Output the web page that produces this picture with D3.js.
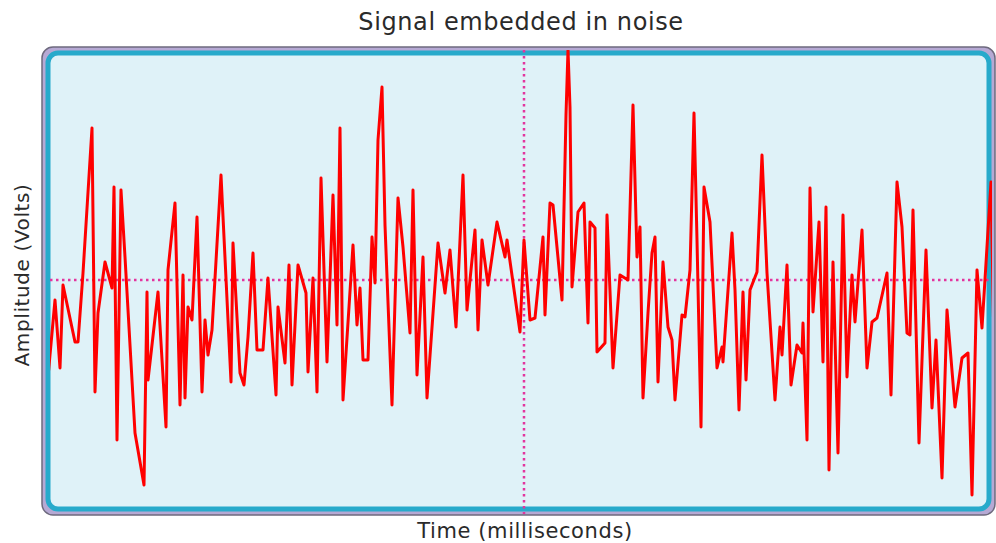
<!DOCTYPE html>
<html>
<head>
<meta charset="utf-8">
<script src="https://d3js.org/d3.v7.min.js"></script>
<style>
  body { margin: 0; background: #fff; }
  text { font-family: "DejaVu Sans", Verdana, sans-serif; fill: #2a2a2a; }
</style>
</head>
<body>
<div id="chart"></div>
<script>
// time in ms, amplitude in volts
var times = [1, 11, 16, 19, 31, 34, 39, 48, 51, 54, 61, 68, 70, 73, 77, 81, 91, 100, 103, 104,
    114, 122, 124, 131, 136, 139, 141, 144, 148, 153, 158, 161,
    164, 168, 177, 187, 189, 196, 200, 204, 209, 213, 219, 224, 232, 234, 241, 245, 248, 254,
    262, 264, 269, 273, 277, 283, 289, 293, 296, 299, 309, 313, 316, 319, 324,
    328, 331, 334, 338, 341, 348, 354, 359, 366, 369, 373, 379, 383, 394, 401, 406, 412, 419,
    423, 431, 434, 438, 444, 453, 461, 463, 476, 480,
    486, 491, 499, 501, 506, 509, 518, 522, 524, 526, 528, 534, 540, 544, 546, 551, 553, 561,
    563, 569, 576, 584, 589, 593, 596, 599, 604, 608, 611, 614, 619, 624, 628, 631, 638, 641,
    646, 650, 653, 657, 660, 666, 673, 678, 679, 688, 691, 695, 699, 702, 706, 713, 718, 723,
    731, 736, 738, 743, 747, 753, 758, 759, 763, 766, 769, 775, 779, 782, 785, 789, 794, 799,
    803, 808, 811, 818, 823, 828, 833, 843, 847, 853, 858, 863, 866, 869, 875, 882, 888, 892,
    898, 903, 911, 918, 924, 928, 933, 938, 947, 951]

var amplitude = [-1.30, -0.20, -0.88, -0.05, -0.62, -0.62, 0.07, 1.52, -1.12, -0.33, 0.18, -0.08, 0.93, -1.60, 0.90, 0.23, -1.53, -2.05, -0.12, -1.00,
    -0.12, -1.47, 0.10, 0.77, -1.25, 0.05, -1.18, -0.27, -0.40, 0.63, -1.12, -0.40,
    -0.75, -0.50, 1.05, -1.02, 0.37, -0.93, -1.05, -0.57, 0.27, -0.70, -0.70, 0.02, -1.15, -0.27, -0.83, 0.15, -1.05, 0.15,
    -0.13, -0.92, 0.02, -1.12, 1.02, -0.82, 0.85, -0.45, 1.52, -1.20, 0.35, -0.45, -0.08, -0.80, -0.80,
    0.43, -0.03, 1.40, 1.93, 0.55, -1.25, 0.82, 0.33, -0.53, 0.90, -0.95, 0.23, -1.18, 0.37, -0.13, 0.30, -0.47, 1.05,
    -0.30, 0.50, -0.50, 0.40, -0.05, 0.58, 0.23, 0.40, -0.52, 0.40,
    -0.40, -0.38, 0.43, -0.35, 0.77, 0.75, -0.20, 1.65, 2.30, 1.73, -0.07, 0.68, 0.77, -0.43, 0.58, 0.52, -0.72, -0.63,
    0.65, -0.88, 0.05, 0.00, 1.75, 0.23, 0.53, -1.18, -0.33, 0.27, 0.43, -1.02, 0.18, -0.47, -0.60, -1.20, -0.35, -0.37,
    0.10, 1.67, 0.40, -1.47, 0.93, 0.58, -0.88, -0.67, -0.82, 0.47, -0.10, -1.30, -0.12, -1.00, -0.10, 0.08, 1.25, 0.07,
    -1.20, -0.47, -0.75, 0.15, -1.05, -0.65, -0.73, -0.43, -1.60, 0.92, -0.32, 0.58, -0.82, 0.73, -1.90, 0.18, -1.73, 0.65,
    -0.97, 0.05, -0.42, 0.50, -0.88, -0.42, -0.38, 0.07, -1.15, 0.98, 0.53, -0.53, -0.55, 0.70, -1.63, 0.30, -1.28, -0.60,
    -1.98, -0.30, -1.27, -0.78, -0.73, -2.15, 0.10, -0.48, 0.98, -1.20]

var timeDomain = [0, 960]
var voltDomain = [-2.3, 2.3]

var width = 996, height = 543

var svg = d3.select("#chart")
    .append("svg")
    .attr("width", width)
    .attr("height", height)

var x = d3.scaleLinear().domain(timeDomain).range([44, 1004])
var y = d3.scaleLinear().domain(voltDomain).range([510, 50])

// frame: outer grey/lavender rim, cyan border, pale fill
svg.append("rect")
    .attr("x", 42).attr("y", 47)
    .attr("width", 953).attr("height", 468)
    .attr("rx", 11)
    .attr("fill", "#b6a9d4")
    .attr("stroke", "#6e6a7e")
    .attr("stroke-width", 1.5)

svg.append("rect")
    .attr("x", 48).attr("y", 53)
    .attr("width", 941).attr("height", 456)
    .attr("rx", 10)
    .attr("fill", "#dff2f8")
    .attr("stroke", "#27aacb")
    .attr("stroke-width", 5)

svg.append("clipPath")
    .attr("id", "plotClip")
    .append("rect")
    .attr("x", 50).attr("y", 50)
    .attr("width", 942).attr("height", 460)

// dotted crosshair at zero volts / mid time
svg.append("line")
    .attr("x1", 50).attr("x2", 990)
    .attr("y1", y(0)).attr("y2", y(0))
    .attr("stroke", "#e3359e")
    .attr("stroke-width", 2.5)
    .attr("stroke-dasharray", "2.5,3.5")

svg.append("line")
    .attr("x1", x(480)).attr("x2", x(480))
    .attr("y1", 50).attr("y2", 514)
    .attr("stroke", "#e3359e")
    .attr("stroke-width", 2.5)
    .attr("stroke-dasharray", "2.5,3.5")

var data = times.map(function (t, i) { return { t: t, v: amplitude[i] } })

var line = d3.line()
    .x(function (d) { return x(d.t) })
    .y(function (d) { return y(d.v) })

svg.append("path")
    .datum(data)
    .attr("clip-path", "url(#plotClip)")
    .attr("d", line)
    .attr("fill", "none")
    .attr("stroke", "#ff0000")
    .attr("stroke-width", 3)
    .attr("stroke-linejoin", "round")

svg.append("text")
    .attr("x", 521).attr("y", 30)
    .attr("text-anchor", "middle")
    .style("font-size", "24px")
    .style("letter-spacing", "0.6px")
    .text("Signal embedded in noise")

svg.append("text")
    .attr("x", 525).attr("y", 538)
    .attr("text-anchor", "middle")
    .style("font-size", "21px")
    .style("letter-spacing", "0.6px")
    .text("Time (milliseconds)")

svg.append("text")
    .attr("transform", "translate(29,275)rotate(-90)")
    .attr("text-anchor", "middle")
    .style("font-size", "20px")
    .style("letter-spacing", "0.6px")
    .text("Amplitude (Volts)")
</script>
</body>
</html>
